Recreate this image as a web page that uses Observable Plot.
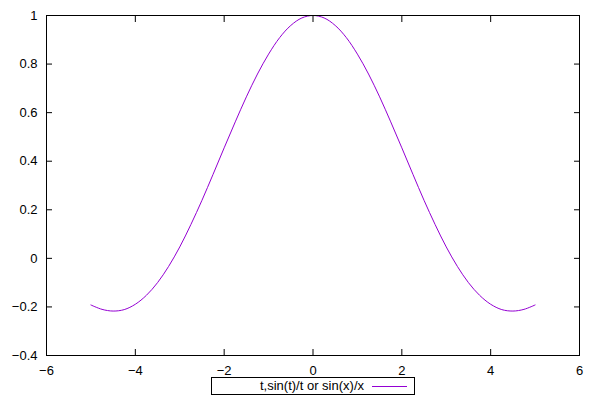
<!DOCTYPE html>
<html>
<head>
<meta charset="utf-8">
<script src="https://cdn.jsdelivr.net/npm/d3@7"></script>
<script src="https://cdn.jsdelivr.net/npm/@observablehq/plot@0.6"></script>
<style>
  html, body { margin: 0; padding: 0; background: #fff; }
  #wrap { position: relative; width: 600px; height: 400px; font-family: "Liberation Sans", Arial, sans-serif; }
  #legend { position: absolute; left: 211px; top: 377px; width: 202px; height: 16px; border: 1px solid #000; box-sizing: content-box; font-size: 13px; line-height: 16px; display: flex; justify-content: flex-end; align-items: center; }
  #legend .sample { display: inline-block; width: 35px; height: 0; border-top: 1px solid #9400d3; margin-left: 8px; margin-right: 7px; }
</style>
</head>
<body>
<div id="wrap"></div>
<script>
// Data
const xs = [-5, -4.75, -4.5, -4.25, -4, -3.75, -3.5, -3.25, -3, -2.75, -2.5, -2.25, -2, -1.75, -1.5, -1.25, -1, -0.75, -0.5, -0.25, 0,
            0.25, 0.5, 0.75, 1, 1.25, 1.5, 1.75, 2, 2.25, 2.5, 2.75, 3, 3.25, 3.5, 3.75, 4, 4.25, 4.5, 4.75, 5];
const ys = [-0.192, -0.210, -0.217, -0.211, -0.189, -0.152, -0.100, -0.033, 0.047, 0.139, 0.239, 0.346, 0.455, 0.562, 0.665, 0.759, 0.841, 0.909, 0.959, 0.990, 1.0,
            0.990, 0.959, 0.909, 0.841, 0.759, 0.665, 0.562, 0.455, 0.346, 0.239, 0.139, 0.047, -0.033, -0.100, -0.152, -0.189, -0.211, -0.217, -0.210, -0.192];
const xTicks = [-6, -4, -2, 0, 2, 4, 6];
const yTicks = [-0.4, -0.2, 0, 0.2, 0.4, 0.6, 0.8, 1];
const seriesLabel = "t,sin(t)/t or sin(x)/x";
const lineColor = "#9400d3";

const data = xs.map((x, i) => ({x, y: ys[i]}));
const fmt = d => String(d).replace("-", "\u2212");

const chart = Plot.plot({
  width: 600,
  height: 400,
  marginLeft: 46,
  marginRight: 21,
  marginTop: 15,
  marginBottom: 45,
  style: {fontFamily: "Liberation Sans, Arial, sans-serif", fontSize: "13px", color: "#000", background: "#fff"},
  x: {domain: [-6, 6]},
  y: {domain: [-0.4, 1]},
  marks: [
    Plot.line(data, {x: "x", y: "y", stroke: lineColor, strokeWidth: 1, curve: "catmull-rom"}),
    Plot.frame({stroke: "#000"}),
    Plot.axisX({anchor: "bottom", ticks: xTicks, tickSize: 0, tickPadding: 10, tickFormat: fmt, label: null, fontSize: 13}),
    Plot.axisX({anchor: "bottom", ticks: xTicks, tickSize: -6, text: null, label: null}),
    Plot.axisX({anchor: "top", ticks: xTicks, tickSize: -6, text: null, label: null}),
    Plot.axisY({anchor: "left", ticks: yTicks, tickSize: 0, tickPadding: 9, tickFormat: fmt, label: null, fontSize: 13}),
    Plot.axisY({anchor: "left", ticks: yTicks, tickSize: -6, text: null, label: null}),
    Plot.axisY({anchor: "right", ticks: yTicks, tickSize: -6, text: null, label: null})
  ]
});
const wrap = document.getElementById("wrap");
wrap.appendChild(chart);
const legend = document.createElement("div");
legend.id = "legend";
legend.innerHTML = `<span>${seriesLabel}</span><span class="sample"></span>`;
wrap.appendChild(legend);
</script>
</body>
</html>
